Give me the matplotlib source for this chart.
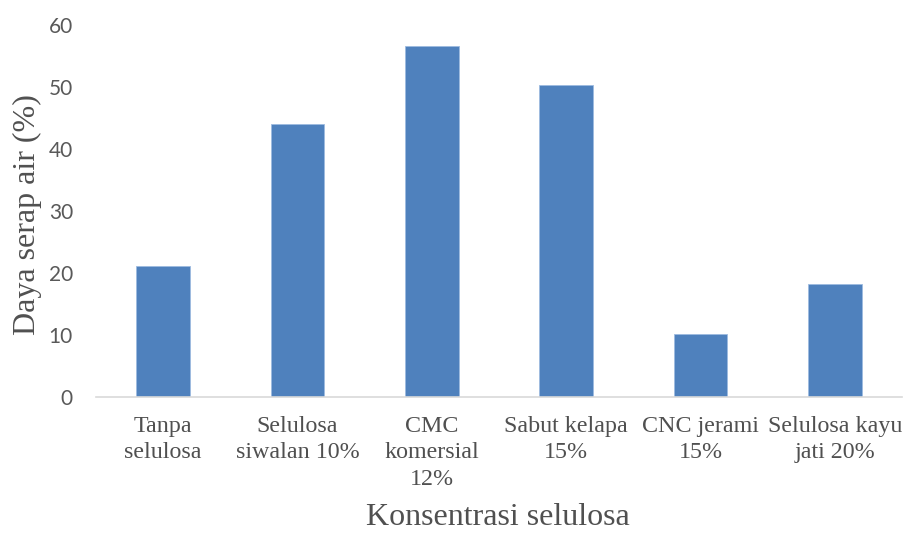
import numpy as np
import matplotlib
matplotlib.use("Agg")
import matplotlib.pyplot as plt

# Data
categories = ["Tanpa\nselulosa", "Selulosa\nsiwalan 10%", "CMC\nkomersial\n12%",
              "Sabut kelapa\n15%", "CNC jerami\n15%", "Selulosa kayu\njati 20%"]
daya_serap = [21.0, 44.0, 56.6, 50.3, 10.1, 18.1]
y_ticks = [0, 10, 20, 30, 40, 50, 60]

fig = plt.figure(figsize=(9.04, 5.33), dpi=100)
ax = fig.add_axes([0.106, 0.256, 0.892, 0.698])

x = np.arange(len(categories))
ax.bar(x, daya_serap, width=0.4, color="#4f81bd", edgecolor="#9dbbe0", linewidth=0.6, zorder=2)

ax.set_xlim(-0.5, len(categories) - 0.5)
ax.set_ylim(0, 60)
ax.set_yticks(y_ticks)
ax.set_yticklabels([str(v) for v in y_ticks], fontfamily="Lato", fontsize=15, color="#595959")
ax.set_xticks(x)
ax.set_xticklabels(categories, fontfamily="Liberation Serif", fontsize=17.3, color="#505050",
                   linespacing=1.33)
ax.tick_params(axis="y", length=0, pad=16.5)
ax.tick_params(axis="x", length=0, pad=14)

for s in ["top", "right", "left"]:
    ax.spines[s].set_visible(False)
ax.spines["bottom"].set_color("#d9d9d9")
ax.spines["bottom"].set_linewidth(1.2)

fig.text(0.551, 0.015, "Konsentrasi selulosa", fontfamily="Liberation Serif", fontsize=23,
         color="#505050", ha="center", va="baseline")
fig.text(0.03, 0.597, "Daya serap air (%)", fontfamily="Liberation Serif", fontsize=23,
         color="#505050", ha="center", va="center", rotation=90)

fig.savefig("out.png", dpi=100)
